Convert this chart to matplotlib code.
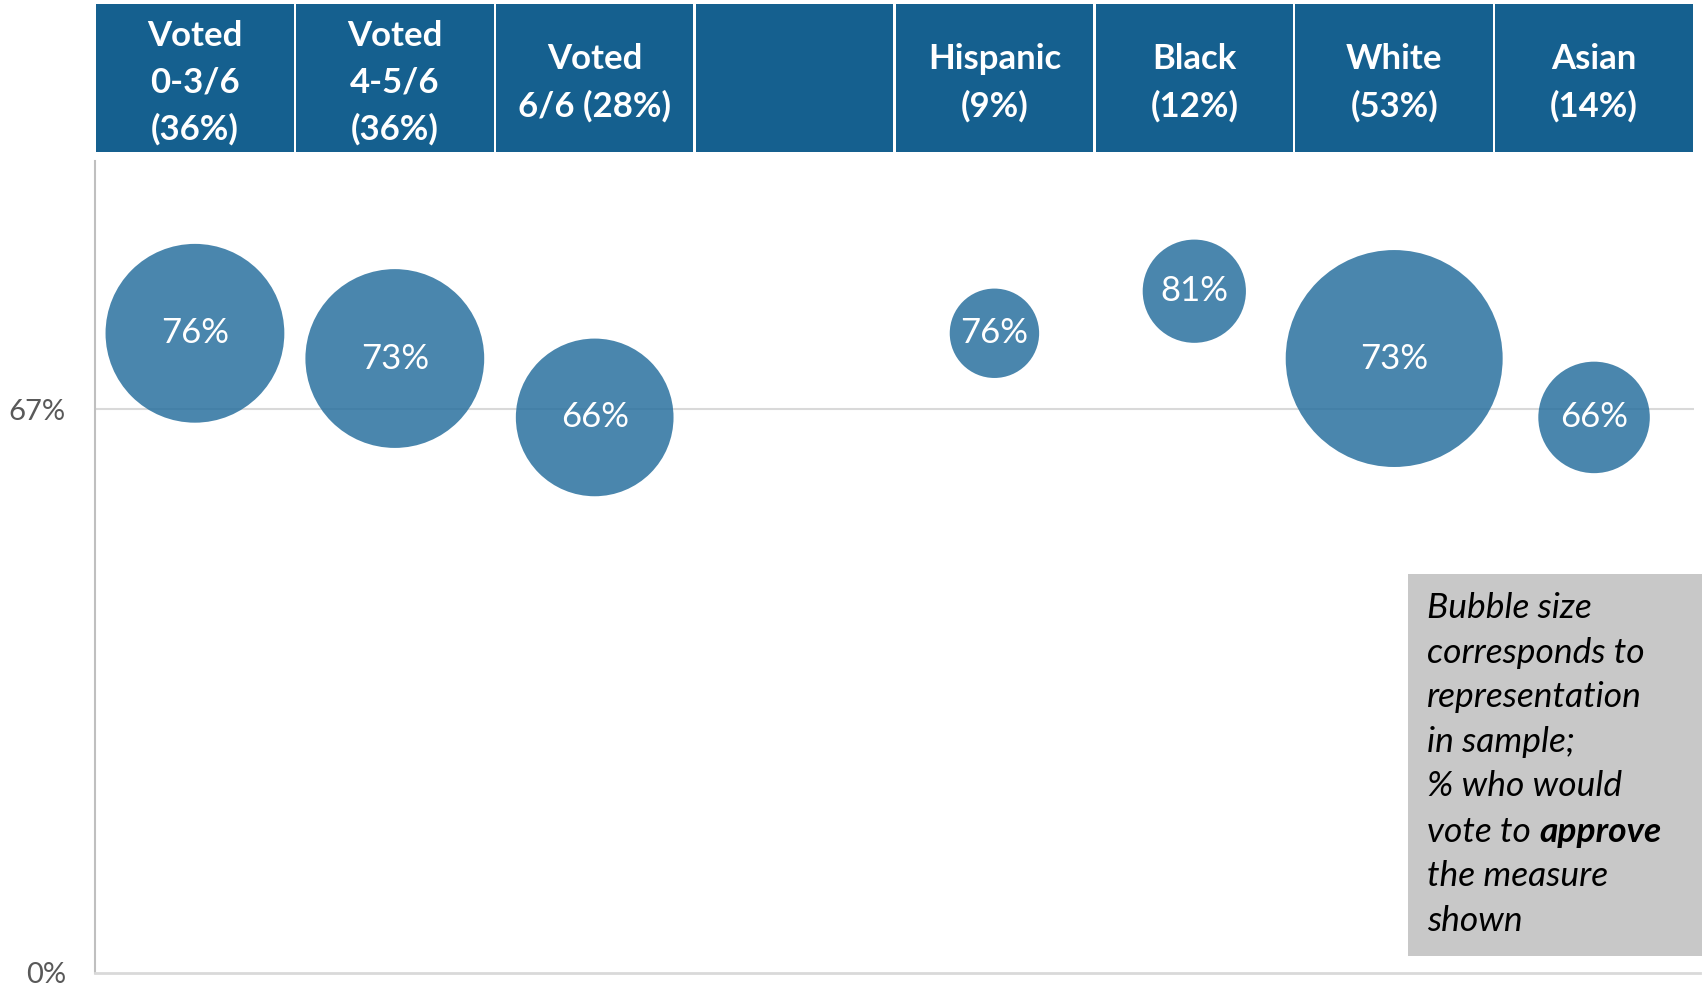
import numpy as np
import matplotlib
matplotlib.use("Agg")
import matplotlib.pyplot as plt
from matplotlib.patches import Rectangle

# ---- data ----
header_labels = ["Voted\n0-3/6\n(36%)", "Voted\n4-5/6\n(36%)", "Voted\n6/6 (28%)", "",
                 "Hispanic\n(9%)", "Black\n(12%)", "White\n(53%)", "Asian\n(14%)"]
share_pct = [36, 36, 28, np.nan, 9, 12, 53, 14]          # representation in sample
approve_pct = [76, 73, 66, np.nan, 76, 81, 73, 66]      # % who would vote to approve
ytick_vals = [0, 67]
ytick_labels = ["0%", "67%"]

W, H, DPI = 1703, 986, 100
HEADER_BLUE = "#15608f"
BUBBLE_BLUE = "#2a719f"
FONT = "Lato"

fig = plt.figure(figsize=(W / DPI, H / DPI), dpi=DPI)


def fx(px):
    return px / W


def fy(py):
    return 1 - py / H


# ---- bubble axes ----
ax_l, ax_r, ax_t, ax_b = 95, 1694, 161, 972.7
ax = fig.add_axes([fx(ax_l), fy(ax_b), fx(ax_r - ax_l), (ax_b - ax_t) / H])
ymax = (ax_b - ax_t) / ((ax_b - 409) / 67)
ax.set_xlim(-0.5, len(header_labels) - 0.5)
ax.set_ylim(0, ymax)

for s in ["top", "right", "bottom"]:
    ax.spines[s].set_visible(False)
ax.spines["left"].set_color("#bfbfbf")
ax.spines["left"].set_linewidth(1.5)
ax.set_xticks([])
ax.set_yticks(ytick_vals)
ax.set_yticklabels(ytick_labels, fontsize=21, color="#595959", family=FONT)
ax.tick_params(axis="y", length=0, pad=21)
ax.axhline(67, color="#d9d9d9", lw=1.5, zorder=1)

x = np.arange(len(header_labels))
shares = np.array(share_pct, dtype=float)
vals = np.array(approve_pct, dtype=float)
# bubble area proportional to share
diam_pt = 29.8 * np.sqrt(shares) * 72 / DPI
ax.scatter(x, vals, s=diam_pt ** 2, color=BUBBLE_BLUE, alpha=0.85,
           linewidths=0, zorder=2, clip_on=False)
for xi, v in zip(x, vals):
    if np.isnan(v):
        continue
    ax.text(xi, v, f"{v:.0f}%", ha="center", va="center", color="white",
            fontsize=25, family=FONT, zorder=3)

# bottom axis line running to the figure edge
fig.add_artist(plt.Line2D([fx(ax_l), fx(1700)], [fy(ax_b), fy(ax_b)],
                          color="#d9d9d9", lw=2))

# ---- header row ----
hx = fig.add_axes([fx(ax_l), fy(152), fx(ax_r - ax_l), (152 - 4.3) / H])
hx.set_xlim(-0.5, len(header_labels) - 0.5)
hx.set_ylim(0, 1)
hx.axis("off")
hx.bar(x, 1, width=0.988, bottom=0, color=HEADER_BLUE, linewidth=0)
for xi, lab in zip(x, header_labels):
    hx.text(xi, 0.47, lab, ha="center", va="center", color="white",
            fontsize=25, fontweight="bold", family=FONT, linespacing=1.55)

# ---- note box ----
fig.add_artist(Rectangle((fx(1408), fy(956)), fx(1702 - 1408), (956 - 574) / H,
                         facecolor="#c8c8c8", edgecolor="none"))
note_lines = ["Bubble size", "corresponds to", "representation", "in sample;",
              "% who would", "vote to", "the measure", "shown"]
line_y = [607, 652, 696, 741, 785, 831, 875, 920]
note_kw = dict(fontsize=25.5, style="italic", family=FONT, color="black")
vote_txt = None
for ln, yy in zip(note_lines, line_y):
    t = fig.text(fx(1427), fy(yy), ln, ha="left", va="baseline", **note_kw)
    t.set_y(fy(yy + 11))
    if ln == "vote to":
        vote_txt = t

# bold emphasis following "vote to"
fig.canvas.draw()
bb = vote_txt.get_window_extent()
fig.text((bb.x1 + 8) / W, vote_txt.get_position()[1], "approve", ha="left",
         va="baseline", fontweight="bold", **note_kw)

fig.savefig("out.png", dpi=DPI)
